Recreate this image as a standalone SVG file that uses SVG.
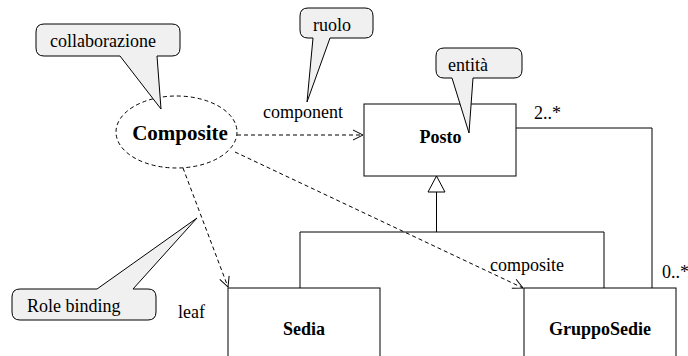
<svg xmlns="http://www.w3.org/2000/svg" width="688" height="356" viewBox="0 0 688 356">
  <style>
    text { font-family: 'Liberation Serif', 'DejaVu Serif', serif; font-size: 18px; fill: #000; }
    .b { font-weight: bold; }
    .big { font-size: 21px; }
    .box { fill: #fff; stroke: #000; stroke-width: 1; }
    .note { fill: #f0f0f0; stroke: #000; stroke-width: 1; }
    .line { fill: none; stroke: #000; stroke-width: 1; }
    .dash { fill: none; stroke: #000; stroke-width: 1; stroke-dasharray: 4 3; }
  </style>
  <defs>
    <marker id="open" viewBox="0 0 12 12" refX="11" refY="6" markerWidth="12" markerHeight="12" markerUnits="userSpaceOnUse" orient="auto">
      <path d="M1,1 L11,6 L1,11" fill="none" stroke="#000" stroke-width="1"/>
    </marker>
  </defs>

  <g id="connectors">
    <!-- association Posto - GruppoSedie -->
    <path class="line" d="M516,128 H652 V288"/>
    <!-- generalization -->
    <path class="line" d="M436.5,192 V232 M300,232 H604 M300,232 V288 M604,232 V288"/>
    <path class="box" d="M436.5,176 L445,192 L428,192 Z"/>
    <!-- role bindings -->
    <path class="dash" d="M237,135 H363" marker-end="url(#open)"/>
    <path class="dash" d="M183,168 L228,287" marker-end="url(#open)"/>
    <path class="dash" d="M235,152 L523,288" marker-end="url(#open)"/>
  </g>

  <g id="composite">
    <ellipse class="dash" cx="176.5" cy="132" rx="60.5" ry="36" fill="#fff"/>
    <text class="b big" x="180" y="140" text-anchor="middle">Composite</text>
  </g>

  <g id="posto">
    <rect class="box" x="364" y="104" width="152" height="72"/>
    <text class="b" x="440.5" y="143" text-anchor="middle">Posto</text>
  </g>

  <g id="sedia">
    <rect class="box" x="228" y="288" width="152" height="80"/>
    <text class="b" x="304" y="335" text-anchor="middle">Sedia</text>
  </g>

  <g id="grupposedie">
    <rect class="box" x="524" y="288" width="152" height="80"/>
    <text class="b" x="600" y="335" text-anchor="middle">GruppoSedie</text>
  </g>

  <g id="labels">
    <text x="263" y="118">component</text>
    <text x="178" y="318">leaf</text>
    <text x="490" y="271">composite</text>
    <text x="534" y="119">2..*</text>
    <text x="662" y="278">0..*</text>
  </g>

  <g id="note-collaborazione">
    <path class="note" d="M44,24 H172 Q180,24 180,32 V48 Q180,56 172,56 H157 L161,109 L120,56 H44 Q36,56 36,48 V32 Q36,24 44,24 Z"/>
    <text x="50" y="47">collaborazione</text>
  </g>

  <g id="note-ruolo">
    <path class="note" d="M308,8 H365 Q373,8 373,16 V30 Q373,38 365,38 H330 L307,102 L313,38 H308 Q300,38 300,30 V16 Q300,8 308,8 Z"/>
    <text x="313" y="31">ruolo</text>
  </g>

  <g id="note-entita">
    <path class="note" d="M444,48 H514 Q522,48 522,56 V70 Q522,78 514,78 H473 L469,133 L452,78 H444 Q436,78 436,70 V56 Q436,48 444,48 Z"/>
    <text x="448" y="71">entità</text>
  </g>

  <g id="note-role-binding">
    <path class="note" d="M20,289 H97 L197,218 L133,289 H148 Q156,289 156,297 V312 Q156,320 148,320 H20 Q12,320 12,312 V297 Q12,289 20,289 Z"/>
    <text x="27" y="312">Role binding</text>
  </g>
</svg>
